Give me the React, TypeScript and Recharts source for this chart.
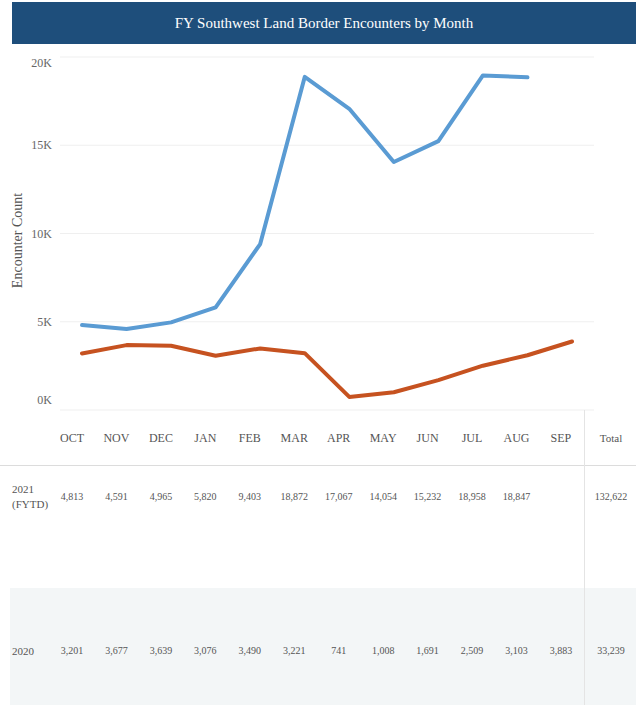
import React from "react";
import { LineChart, Line, XAxis, YAxis, CartesianGrid, Label } from "recharts";

const months = ["OCT", "NOV", "DEC", "JAN", "FEB", "MAR", "APR", "MAY", "JUN", "JUL", "AUG", "SEP"];
const fy2021 = [4813, 4591, 4965, 5820, 9403, 18872, 17067, 14054, 15232, 18958, 18847, null];
const fy2020 = [3201, 3677, 3639, 3076, 3490, 3221, 741, 1008, 1691, 2509, 3103, 3883];
const totals = { fy2021: 132622, fy2020: 33239 };
const yTicks = [0, 5000, 10000, 15000, 20000];

const data = months.map((m, i) => ({ month: m, fy2021: fy2021[i], fy2020: fy2020[i] }));

const serif = "'Liberation Serif', 'Times New Roman', serif";
const fmt = (v: number | null) => (v == null ? "" : v.toLocaleString("en-US"));

const renderTick = (props: any) => {
    const { x, y, payload } = props;
    let dy = 4;
    if (payload.value === 0) dy = -6;
    if (payload.value === 20000) dy = 10;
    return (
        <text x={x} y={y + dy} textAnchor="end" fill="#666" fontSize={12} fontFamily={serif}>
            {payload.value / 1000}K
        </text>
    );
};

// table column centres
const colX = (i: number) => 72 + i * 44.45;
const totalX = 611;

const Cell = ({ x, y, text, size = 10 }: { x: number; y: number; text: string; size?: number }) => (
    <div
        style={{
            position: "absolute",
            left: x - 30,
            top: y - 8,
            width: 60,
            textAlign: "center",
            fontSize: size,
            lineHeight: "16px",
            color: "#555",
            fontFamily: serif,
        }}
    >
        {text}
    </div>
);

const App = () => {
    return (
        <div style={{ position: "absolute", left: 0, top: 0, width: 636, height: 705, background: "#fff", overflow: "hidden", fontFamily: serif }}>
            <div
                style={{
                    position: "absolute",
                    left: 12,
                    top: 2,
                    width: 624,
                    height: 42,
                    background: "#1e4e7b",
                    color: "#fff",
                    fontFamily: serif,
                    fontSize: 15,
                    lineHeight: "42px",
                    textAlign: "center",
                }}
            >
                FY Southwest Land Border Encounters by Month
            </div>

            <div style={{ position: "absolute", left: 0, top: 0 }}>
                <LineChart width={636} height={414} data={data} margin={{ top: 57, right: 42, bottom: 4, left: 0 }}>
                    <CartesianGrid vertical={false} stroke="#efefef" />
                    <XAxis dataKey="month" hide padding={{ left: 22, right: 22 }} />
                    <YAxis
                        domain={[0, 20000]}
                        ticks={yTicks}
                        interval={0}
                        width={60}
                        axisLine={false}
                        tickLine={false}
                        tick={renderTick}
                    >
                        <Label
                            value="Encounter Count"
                            angle={-90}
                            position="insideLeft"
                            offset={17}
                            dy={7}
                            style={{ textAnchor: "middle", fontFamily: serif, fontSize: 14, fill: "#555" }}
                        />
                    </YAxis>
                    <Line
                        type="linear"
                        dataKey="fy2021"
                        stroke="#5a9bd3"
                        strokeWidth={4}
                        dot={false}
                        strokeLinecap="round"
                        strokeLinejoin="round"
                        isAnimationActive={false}
                    />
                    <Line
                        type="linear"
                        dataKey="fy2020"
                        stroke="#c65220"
                        strokeWidth={4}
                        dot={false}
                        strokeLinecap="round"
                        strokeLinejoin="round"
                        isAnimationActive={false}
                    />
                </LineChart>
            </div>

            {/* table */}
            <div style={{ position: "absolute", left: 10, top: 588, width: 626, height: 117, background: "#f3f6f7" }} />
            <div style={{ position: "absolute", left: 0, top: 465, width: 636, height: 1, background: "#dcdcdc" }} />
            <div style={{ position: "absolute", left: 584, top: 410, width: 1, height: 295, background: "#e4e4e4" }} />

            {months.map((m, i) => (
                <Cell key={m} x={colX(i)} y={438} text={m} size={12} />
            ))}
            <Cell x={totalX} y={438} text="Total" size={11} />

            <div style={{ position: "absolute", left: 12, top: 482, fontFamily: serif, fontSize: 11, lineHeight: "15px", color: "#555" }}>
                2021
                <br />
                (FYTD)
            </div>
            {fy2021.map((v, i) => (
                <Cell key={"a" + i} x={colX(i)} y={497} text={fmt(v)} />
            ))}
            <Cell x={totalX} y={497} text={fmt(totals.fy2021)} />

            <div style={{ position: "absolute", left: 12, top: 643, fontFamily: serif, fontSize: 11, lineHeight: "16px", color: "#555" }}>
                2020
            </div>
            {fy2020.map((v, i) => (
                <Cell key={"b" + i} x={colX(i)} y={651} text={fmt(v)} />
            ))}
            <Cell x={totalX} y={651} text={fmt(totals.fy2020)} />
        </div>
    );
};

export default App;
